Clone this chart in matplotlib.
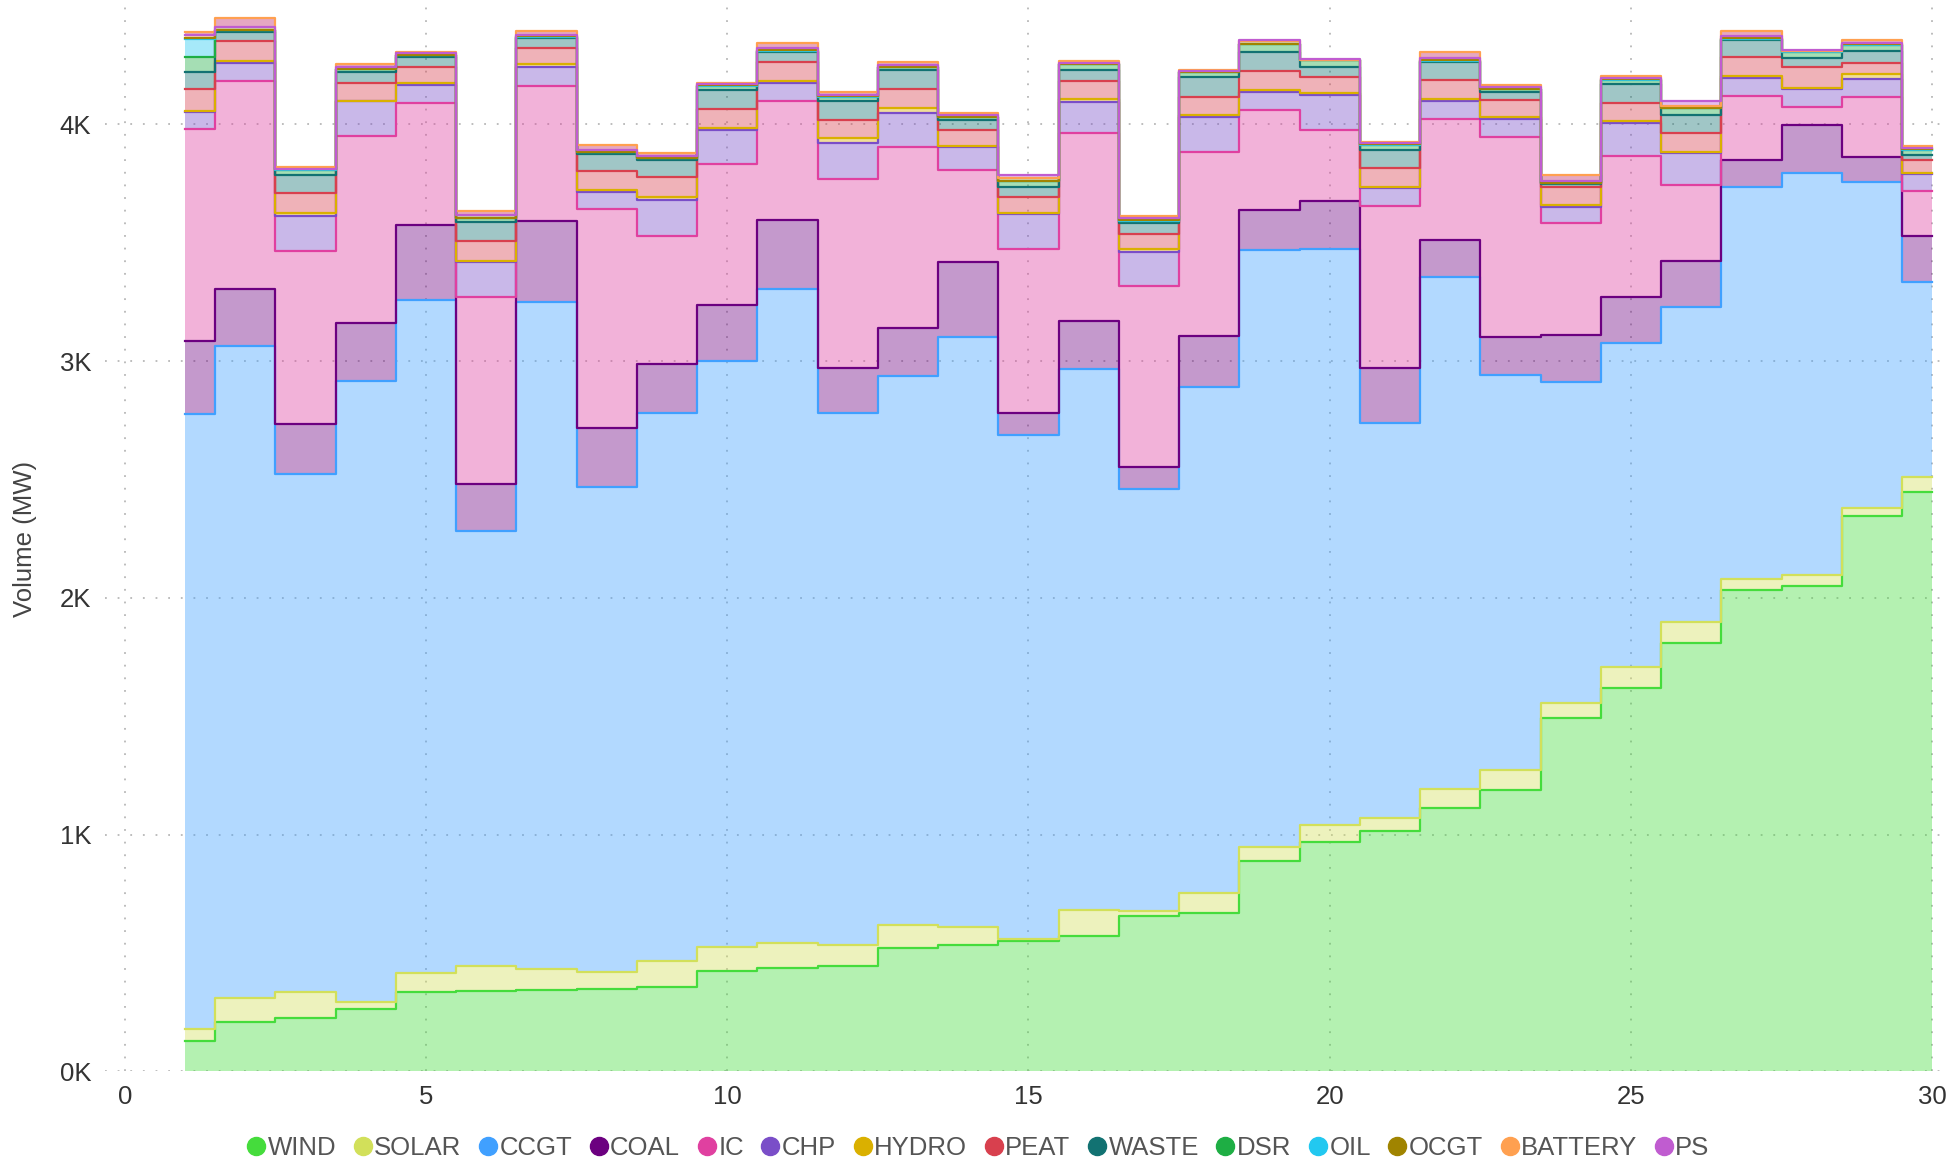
import numpy as np
import matplotlib
matplotlib.use("Agg")
from matplotlib import pyplot as plt
from matplotlib.lines import Line2D
from matplotlib.ticker import FuncFormatter

plt.rcParams["font.family"] = ["Liberation Sans", "DejaVu Sans"]

# daily average volume (MW) by fuel, days 1..30
days = np.arange(1, 31)

wind = [130, 210, 226, 263, 336, 340, 342, 347, 357, 426, 436, 447, 520, 536, 552,
        573, 657, 668, 888, 967, 1014, 1114, 1188, 1493, 1619, 1808, 2034, 2050, 2344, 2449]
solar = [49, 100, 110, 31, 79, 107, 89, 73, 111, 100, 105, 89, 100, 74, 8,
         110, 21, 84, 58, 74, 58, 79, 84, 63, 89, 90, 47, 47, 37, 63]
ccgt = [2596, 2754, 2187, 2623, 2844, 1835, 2817, 2050, 2313, 2475, 2765, 2245, 2318, 2491, 2126,
        2282, 1780, 2139, 2523, 2433, 1667, 2160, 1671, 1356, 1367, 1329, 1656, 1698, 1377, 820]
coal = [310, 242, 210, 242, 315, 200, 342, 247, 205, 237, 289, 189, 200, 316, 95,
        205, 94, 215, 168, 200, 231, 158, 158, 200, 194, 195, 111, 200, 102, 195]
ic = [894, 875, 733, 790, 515, 787, 570, 925, 543, 594, 501, 799, 764, 391, 692,
      794, 766, 775, 424, 301, 686, 511, 843, 471, 595, 321, 272, 76, 256, 192]
chp = [74, 78, 148, 147, 78, 148, 80, 73, 151, 143, 76, 150, 145, 94, 146,
       131, 144, 148, 77, 149, 73, 77, 78, 69, 141, 134, 77, 77, 74, 71]
hydro = [4, 6, 11, 3, 8, 7, 14, 7, 11, 9, 11, 21, 21, 6, 7,
         11, 11, 10, 6, 6, 4, 7, 7, 8, 7, 4, 6, 7, 24, 2]
peat = [90, 87, 83, 73, 68, 84, 66, 79, 85, 80, 78, 79, 80, 67, 65,
        77, 63, 78, 79, 68, 82, 82, 74, 73, 77, 80, 79, 85, 43, 57]
waste = [74, 39, 79, 49, 42, 79, 43, 73, 73, 80, 42, 80, 82, 44, 45,
         47, 45, 81, 80, 45, 77, 73, 34, 14, 80, 79, 74, 39, 53, 21]
dsr = [61, 6, 20, 12, 7, 17, 6, 7, 8, 18, 7, 18, 10, 10, 23,
       24, 12, 21, 35, 28, 21, 7, 11, 3, 19, 28, 6, 28, 25, 22]
oil = [80, 0, 0, 0, 0, 0, 0, 0, 0, 0, 0, 0, 0, 0, 0,
       0, 0, 0, 0, 0, 0, 0, 0, 0, 0, 0, 0, 0, 0, 0]
ocgt = [2, 2, 2, 2, 2, 2, 2, 2, 2, 2, 2, 2, 2, 2, 2,
        2, 2, 2, 2, 1, 2, 2, 2, 2, 2, 2, 2, 1, 2, 2]
battery = [26, 49, 9, 19, 13, 29, 23, 30, 18, 10, 30, 15, 19, 16, 10,
           9, 19, 9, 10, 1, 11, 33, 17, 35, 15, 9, 28, 2, 19, 12]
ps = [-15, -36, -5, -12, -8, -20, -17, -20, -12, -6, -20, -10, -12, -10, 16,
      -5, -12, -5, 5, 2, -7, -22, -10, -25, -10, 20, -20, 4, -12, -7]

names = ["WIND", "SOLAR", "CCGT", "COAL", "IC", "CHP", "HYDRO", "PEAT",
         "WASTE", "DSR", "OIL", "OCGT", "BATTERY", "PS"]
series = [wind, solar, ccgt, coal, ic, chp, hydro, peat, waste, dsr, oil, ocgt, battery, ps]
colors = ["#45dc3c", "#d2e05a", "#40a0ff", "#6c0080", "#e040a0", "#7a4ec8", "#dab000",
          "#d8404e", "#127272", "#1eae44", "#22c8f0", "#a08400", "#ffa050", "#c05cd0"]

fig = plt.figure(figsize=(19.54, 11.65), dpi=100)
ax = fig.add_axes([0.0537, 0.0803, 0.9413, 0.9147])

lower = np.zeros(len(days))
for vals, c in zip(series, colors):
    upper = lower + np.array(vals, dtype=float)
    ax.fill_between(days, lower, upper, step="mid", color=c, alpha=0.4, lw=0)
    ax.plot(days, upper, drawstyle="steps-mid", color=c, lw=1.6)
    lower = upper

ax.set_xlim(-0.33, 30.2)
ax.set_ylim(0, 4500)
ax.set_xticks(range(0, 31, 5))
ax.set_yticks(range(0, 4001, 1000))
ax.yaxis.set_major_formatter(FuncFormatter(lambda v, p: "%dK" % (v // 1000)))
ax.grid(True, color="#b8b8b8", linestyle=(0, (1, 6)), lw=1.3)
ax.set_axisbelow(True)
for s in ax.spines.values():
    s.set_visible(False)
ax.tick_params(length=0, labelsize=18.5, labelcolor="#333333", pad=10)
ax.set_ylabel("Volume (MW)", fontsize=18.5, color="#444444", labelpad=16)

handles = [Line2D([], [], marker="o", ls="", color=c, markersize=13) for c in colors]
fig.legend(handles, names, loc="center", bbox_to_anchor=(0.5, 0.0146), ncol=14,
           frameon=False, fontsize=18.5, handletextpad=0.0, columnspacing=0.58,
           labelcolor="#555555", handlelength=0.9)

fig.savefig("out.png", dpi=100)
